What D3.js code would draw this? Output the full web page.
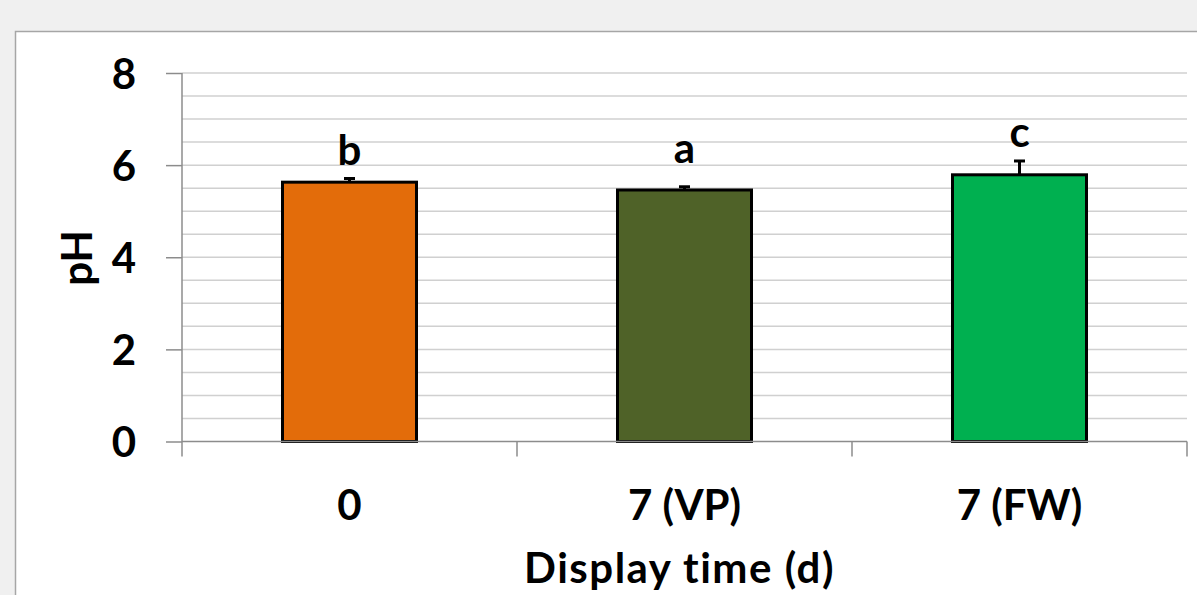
<!DOCTYPE html>
<html>
<head>
<meta charset="utf-8">
<script src="https://cdn.jsdelivr.net/npm/d3@7"></script>
<style>
  body { margin: 0; background: #f0f0f0; }
  text { font-family: Lato, "Open Sans", sans-serif; font-weight: bold; fill: #000; font-variant-ligatures: none; }
</style>
</head>
<body>
<div id="chart"></div>
<script>
// data
var groups = ["0", "7 (VP)", "7 (FW)"];
var phMeans = [5.63, 5.46, 5.79];
var phErrors = [0.08, 0.07, 0.30];
var letters = ["b", "a", "c"];
var letterAt = [6.0, 6.04, 6.4];   // pH level of the letter baseline
var barColors = ["#e36c0a", "#4f6228", "#00b050"];
var yTicks = [0, 2, 4, 6, 8];

var W = 1197, H = 595;
var plotL = 182, plotR = 1187, plotT = 73, plotB = 441.5;

var svg = d3.select("#chart")
  .append("svg")
  .attr("width", W)
  .attr("height", H);

svg.append("rect")
  .attr("width", W).attr("height", H)
  .attr("fill", "#f0f0f0");

// chart area
svg.append("rect")
  .attr("x", 15.5).attr("y", 31.5)
  .attr("width", 1300).attr("height", 700)
  .attr("fill", "#fff")
  .attr("stroke", "#a6a6a6")
  .attr("stroke-width", 1.5);

var y = d3.scaleLinear().domain([0, 8]).range([plotB, plotT]);
var x = d3.scaleBand().domain(groups).range([plotL, plotR])
  .paddingInner(0.6).paddingOuter(0.3);

// gridlines every 0.5
var grid = d3.range(1, 17).map(function(i) { return i * 0.5; });
svg.append("g").selectAll("line")
  .data(grid)
  .enter()
  .append("line")
  .attr("x1", plotL).attr("x2", plotR)
  .attr("y1", function(d) { return y(d); })
  .attr("y2", function(d) { return y(d); })
  .attr("stroke", "#d0d0d0")
  .attr("stroke-width", 1.5);

// y axis
var yAxis = d3.axisLeft(y)
  .tickValues(yTicks)
  .tickSize(16)
  .tickPadding(30)
  .tickFormat(d3.format("d"));

var gy = svg.append("g")
  .attr("transform", "translate(" + plotL + ",0)")
  .call(yAxis);
gy.select(".domain").remove();
gy.selectAll(".tick line").attr("stroke", "#8c8c8c").attr("stroke-width", 1.5);
gy.selectAll(".tick text").style("font-size", "42px").attr("dy", "0.36em");

svg.append("line")
  .attr("x1", plotL).attr("x2", plotL)
  .attr("y1", plotT).attr("y2", plotB + 15)
  .attr("stroke", "#8c8c8c").attr("stroke-width", 1.5);

// bars
svg.selectAll(".bar")
  .data(groups)
  .enter()
  .append("rect")
  .attr("class", "bar")
  .attr("x", function(d) { return x(d); })
  .attr("width", x.bandwidth())
  .attr("y", function(d, i) { return y(phMeans[i]); })
  .attr("height", function(d, i) { return y(0) - y(phMeans[i]); })
  .attr("fill", function(d, i) { return barColors[i]; })
  .attr("stroke", "#000")
  .attr("stroke-width", 3);

// error bars (upper only)
var eb = svg.selectAll(".err")
  .data(groups)
  .enter()
  .append("g")
  .attr("class", "err");
eb.append("line")
  .attr("x1", function(d) { return x(d) + x.bandwidth() / 2; })
  .attr("x2", function(d) { return x(d) + x.bandwidth() / 2; })
  .attr("y1", function(d, i) { return y(phMeans[i]); })
  .attr("y2", function(d, i) { return y(phMeans[i] + phErrors[i]); })
  .attr("stroke", "#000").attr("stroke-width", 3);
eb.append("line")
  .attr("x1", function(d) { return x(d) + x.bandwidth() / 2 - 5.5; })
  .attr("x2", function(d) { return x(d) + x.bandwidth() / 2 + 5.5; })
  .attr("y1", function(d, i) { return y(phMeans[i] + phErrors[i]); })
  .attr("y2", function(d, i) { return y(phMeans[i] + phErrors[i]); })
  .attr("stroke", "#000").attr("stroke-width", 3);

// x axis
svg.append("line")
  .attr("x1", plotL).attr("x2", plotR)
  .attr("y1", plotB).attr("y2", plotB)
  .attr("stroke", "#8c8c8c").attr("stroke-width", 1.5);

var bounds = groups.map(function(d) { return x(d) + x.bandwidth() / 2 + x.step() / 2; });
svg.append("g").selectAll("line")
  .data(bounds)
  .enter()
  .append("line")
  .attr("x1", function(d) { return d; })
  .attr("x2", function(d) { return d; })
  .attr("y1", plotB).attr("y2", plotB + 15)
  .attr("stroke", "#8c8c8c").attr("stroke-width", 1.5);

var xAxis = d3.axisBottom(x).tickSize(0).tickPadding(0);
var gx = svg.append("g")
  .attr("transform", "translate(0," + plotB + ")")
  .call(xAxis);
gx.select(".domain").remove();
gx.selectAll(".tick text")
  .style("font-size", "42px")
  .attr("dy", null)
  .attr("y", 520 - plotB);

// significance letters
svg.selectAll(".letter")
  .data(groups)
  .enter()
  .append("text")
  .attr("class", "letter")
  .attr("x", function(d) { return x(d) + x.bandwidth() / 2; })
  .attr("y", function(d, i) { return y(letterAt[i]); })
  .attr("text-anchor", "middle")
  .style("font-size", "42px")
  .text(function(d, i) { return letters[i]; });

// axis titles
svg.append("text")
  .attr("x", (plotL + plotR) / 2 - 5)
  .attr("y", 583)
  .attr("text-anchor", "middle")
  .style("font-size", "42px")
  .style("letter-spacing", "1.5px")
  .text("Display time (d)");

svg.append("text")
  .attr("transform", "translate(92,258) rotate(-90)")
  .attr("text-anchor", "middle")
  .style("font-size", "42px")
  .text("pH");
</script>
</body>
</html>
